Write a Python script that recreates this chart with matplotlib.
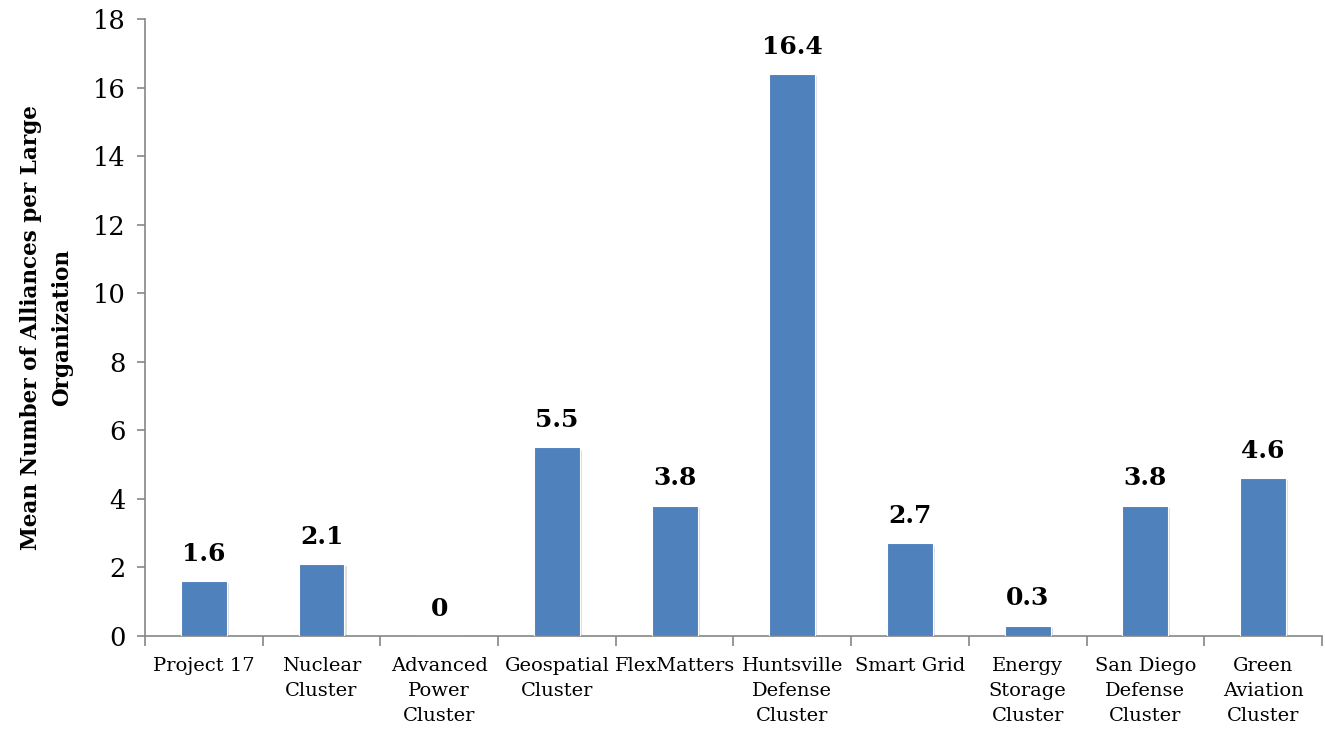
import matplotlib
matplotlib.use("Agg")
import matplotlib.pyplot as plt
import matplotlib.patheffects as pe
import numpy as np

categories = ["Project 17", "Nuclear\nCluster", "Advanced\nPower\nCluster",
              "Geospatial\nCluster", "FlexMatters", "Huntsville\nDefense\nCluster",
              "Smart Grid", "Energy\nStorage\nCluster", "San Diego\nDefense\nCluster",
              "Green\nAviation\nCluster"]
values = [1.6, 2.1, 0, 5.5, 3.8, 16.4, 2.7, 0.3, 3.8, 4.6]
value_labels = ["1.6", "2.1", "0", "5.5", "3.8", "16.4", "2.7", "0.3", "3.8", "4.6"]
y_ticks = [0, 2, 4, 6, 8, 10, 12, 14, 16, 18]

plt.rcParams["font.family"] = ["DejaVu Serif"]

fig = plt.figure(figsize=(13.25, 7.31), dpi=100)
ax = fig.add_axes([0.1094, 0.130, 0.8883, 0.844])

x = np.arange(len(categories))
bars = ax.bar(x, values, width=0.39, color="#4F81BD", edgecolor="white",
              linewidth=0.8, zorder=3)
for b in bars:
    b.set_path_effects([pe.SimplePatchShadow(offset=(1.5, -1.5), alpha=0.25,
                                             shadow_rgbFace="#808080"),
                        pe.Normal()])

for xi, v, lab in zip(x, values, value_labels):
    ax.annotate(lab, (xi, v), xytext=(0, 11), textcoords="offset points",
                ha="center", va="bottom", fontsize=18, fontweight="bold")

ax.set_xlim(-0.5, len(categories) - 0.5)
ax.set_ylim(0, 18)
ax.set_yticks(y_ticks)
ax.set_yticklabels([str(t) for t in y_ticks], fontsize=18.5)
ax.tick_params(axis="y", direction="out", length=6, width=1.2, color="#868686", pad=8)

ax.set_xticks(x)
ax.set_xticklabels(categories, fontsize=14, linespacing=1.5)
ax.tick_params(axis="x", length=0, pad=15)
ax.set_xticks(np.arange(-0.5, len(categories)), minor=True)
ax.tick_params(axis="x", which="minor", direction="out", length=7, width=1.2,
               color="#868686")

for s in ["top", "right"]:
    ax.spines[s].set_visible(False)
for s in ["left", "bottom"]:
    ax.spines[s].set_color("#868686")
    ax.spines[s].set_linewidth(1.2)

ax.set_ylabel("Mean Number of Alliances per Large\nOrganization", fontsize=15.5,
              fontweight="bold", linespacing=1.55, labelpad=14)

fig.savefig("out.png", dpi=100)
